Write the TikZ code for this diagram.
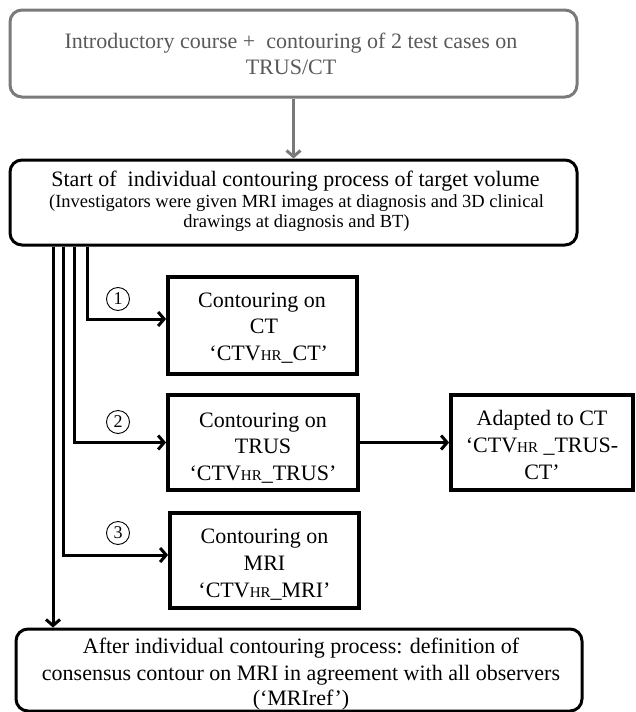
\documentclass[tikz,border=0pt]{standalone}
\usepackage{fontspec}
\setmainfont{Liberation Serif}
\usetikzlibrary{arrows.meta}
\newcommand\fmain{\fontsize{22}{26}\selectfont}
\newcommand\fsub{\fontsize{18.5}{20}\selectfont}
\newcommand\hrtext{{\fontsize{15}{15}\selectfont HR}}
\definecolor{boxgray}{HTML}{7A7A7A}
\definecolor{textgray}{HTML}{595959}
\begin{document}
\begin{tikzpicture}[x=1pt,y=-1pt,
  box/.style={draw, line width=3.8pt, inner sep=0pt},
  rbox/.style={box, rounded corners=12pt, line width=3pt},
  gbox/.style={rbox, draw=boxgray},
  txt/.style={anchor=base, inner sep=0pt, font=\fmain},
  conn/.style={line width=3pt, -{Straight Barb[length=6pt,width=14pt]}},
  circ/.style={circle, draw, line width=0.9pt, minimum size=23pt, inner sep=0pt, font=\fontsize{18}{18}\selectfont}]
\useasboundingbox (0,0) rectangle (636,712);

% boxes
\node[gbox, minimum width=567pt, minimum height=87pt] (top) at (293.5,53.5) {};
\node[rbox, minimum width=567pt, minimum height=85pt] (start) at (293.5,202.5) {};
\node[box, minimum width=189pt, minimum height=97pt] (ct) at (262.5,325.5) {};
\node[box, minimum width=190pt, minimum height=95pt] (trus) at (263,442.5) {};
\node[box, minimum width=182pt, minimum height=95pt] (adapt) at (542,442.5) {};
\node[box, minimum width=189pt, minimum height=95pt] (mri) at (264.5,560.5) {};
\node[rbox, minimum width=566pt, minimum height=82pt] (final) at (299,670) {};

% texts
\node[txt, text=textgray] (t1a) at (291,48) {Introductory course +\ \ contouring of 2 test cases on};
\node[txt, text=textgray] (t1b) at (291,74) {TRUS/CT};
\node[txt] (s1) at (295.5,186) {Start of\ \ individual contouring process of target volume};
\node[txt, font=\fsub] (s2) at (296.5,207) {(Investigators were given MRI images at diagnosis and 3D clinical};
\node[txt, font=\fsub] (s3) at (296.5,227) {drawings at diagnosis and BT)};

\node[txt] (ct1) at (262,307) {Contouring on};
\node[txt] (ct2) at (264,333) {CT};
\node[txt] (ct3) at (266,360) {\ ‘CTV\hrtext\_CT’};

\node[txt] (tr1) at (263,427) {Contouring on};
\node[txt] (tr2) at (263,453) {TRUS};
\node[txt] (tr3) at (263,480) {‘CTV\hrtext\_TRUS’};

\node[txt] (ad1) at (542,425) {Adapted to CT};
\node[txt] (ad2) at (542,452) {‘CTV\hrtext\ \_TRUS-};
\node[txt] (ad3) at (542,479) {CT’};

\node[txt] (mr1) at (264.5,543) {Contouring on};
\node[txt] (mr2) at (264.5,570) {MRI};
\node[txt] (mr3) at (264.5,597) {‘CTV\hrtext\_MRI’};

\node[txt] (f1) at (301,653) {After individual contouring process: definition of};
\node[txt] (f2) at (301,680) {consensus contour on MRI in agreement with all observers};
\node[txt] (f3) at (301,705) {(‘MRIref’)};

% circled numbers
\node[circ] (n1) at (118,299) {1};
\node[circ] (n2) at (118,422) {2};
\node[circ] (n3) at (118,533) {3};

% connectors
\coordinate (c1) at (87,0);
\coordinate (c2) at (74,0);
\coordinate (c3) at (63,0);
\coordinate (c4) at (53,0);
\draw[conn, draw=boxgray] (top.south) -- (start.north);
\draw[conn] (start.south -| c1) |- ([yshift=6.5pt]ct.west);
\draw[conn] (start.south -| c2) |- (trus.west);
\draw[conn] (start.south -| c3) |- ([yshift=5.5pt]mri.west);
\draw[conn] (start.south -| c4) -- (final.north -| c4);
\draw[conn] (trus) -- (adapt);
\end{tikzpicture}
\end{document}
